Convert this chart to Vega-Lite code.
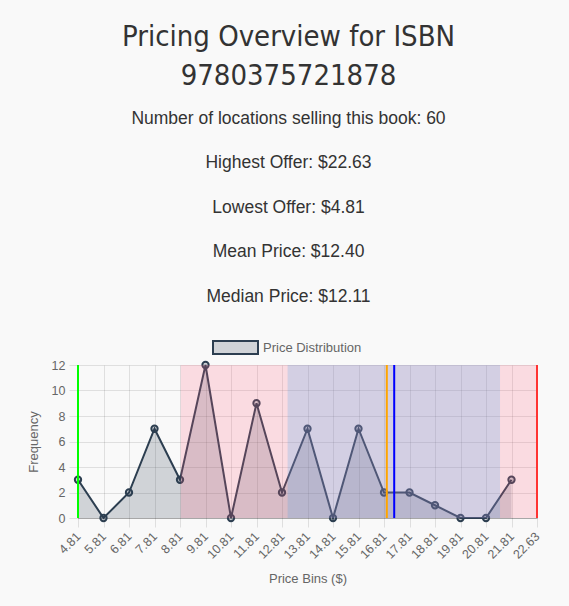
{
  "$schema": "https://vega.github.io/schema/vega-lite/v6.json",
  "width": 459,
  "height": 153,
  "autosize": {"type": "none"},
  "padding": {"left": 78, "top": 365, "right": 32, "bottom": 88},
  "background": "#f9f9f9",
  "title": {
    "text": ["Pricing Overview for ISBN", "9780375721878"],
    "subtitle": ["Number of locations selling this book: 60", "Highest Offer: $22.63", "Lowest Offer: $4.81", "Mean Price: $12.40", "Median Price: $12.11"],
    "font": "DejaVu Sans Condensed",
    "fontSize": 29,
    "fontWeight": "normal",
    "color": "#333333",
    "lineHeight": 39,
    "subtitleFont": "Liberation Sans",
    "subtitleFontSize": 17.5,
    "subtitleColor": "#333333",
    "subtitleLineHeight": 44.5,
    "subtitlePadding": 19,
    "anchor": "middle",
    "dx": -19,
    "offset": 19
  },
  "datasets": {
    "bins": [
      {"bin": "4.81", "pos": 0, "freq": 3},
      {"bin": "5.81", "pos": 1, "freq": 0},
      {"bin": "6.81", "pos": 2, "freq": 2},
      {"bin": "7.81", "pos": 3, "freq": 7},
      {"bin": "8.81", "pos": 4, "freq": 3},
      {"bin": "9.81", "pos": 5, "freq": 12},
      {"bin": "10.81", "pos": 6, "freq": 0},
      {"bin": "11.81", "pos": 7, "freq": 9},
      {"bin": "12.81", "pos": 8, "freq": 2},
      {"bin": "13.81", "pos": 9, "freq": 7},
      {"bin": "14.81", "pos": 10, "freq": 0},
      {"bin": "15.81", "pos": 11, "freq": 7},
      {"bin": "16.81", "pos": 12, "freq": 2},
      {"bin": "17.81", "pos": 13, "freq": 2},
      {"bin": "18.81", "pos": 14, "freq": 1},
      {"bin": "19.81", "pos": 15, "freq": 0},
      {"bin": "20.81", "pos": 16, "freq": 0},
      {"bin": "21.81", "pos": 17, "freq": 3}
    ],
    "bands": [
      {"band": "outer", "pos": 4.03, "end": 18},
      {"band": "iqr", "pos": 8.22, "end": 16.55}
    ],
    "markers": [
      {"stat": "Lowest", "pos": 0},
      {"stat": "Median", "pos": 12.11},
      {"stat": "Mean", "pos": 12.4},
      {"stat": "Highest", "pos": 18}
    ]
  },
  "encoding": {
    "x": {
      "field": "pos", "type": "quantitative",
      "scale": {"domain": [0, 18], "nice": false, "zero": false},
      "axis": {
        "title": "Price Bins ($)",
        "values": [0,1,2,3,4,5,6,7,8,9,10,11,12,13,14,15,16,17,18],
        "labelExpr": "['4.81','5.81','6.81','7.81','8.81','9.81','10.81','11.81','12.81','13.81','14.81','15.81','16.81','17.81','18.81','19.81','20.81','21.81','22.63'][datum.value]",
        "labelAngle": -45,
        "labelAlign": "right",
        "labelBaseline": "middle",
        "labelPadding": 7,
        "labelOverlap": false,
        "labelBound": false,
        "titlePadding": 12
      }
    }
  },
  "layer": [
    {
      "data": {"name": "bins"},
      "mark": {"type": "area", "interpolate": "linear"},
      "encoding": {
        "y": {
          "field": "freq", "type": "quantitative",
          "scale": {"domain": [0, 12], "nice": false},
          "axis": {"title": "Frequency", "values": [0,2,4,6,8,10,12], "labelPadding": 4, "labelOverlap": false, "titlePadding": 11}
        },
        "color": {
          "datum": "Price Distribution",
          "scale": {"range": ["rgba(44,62,80,0.2)"]},
          "legend": {
            "orient": "none", "legendX": 134, "legendY": -41, "title": null,
            "symbolType": "M-1,-0.289H1V0.289H-1Z", "symbolSize": 2025,
            "symbolStrokeColor": "#2c3e50", "symbolStrokeWidth": 2, "symbolOpacity": 1,
            "labelFont": "Liberation Sans", "labelFontSize": 13, "labelColor": "#666666"
          }
        }
      }
    },
    {
      "data": {"name": "bins"},
      "mark": {"type": "line", "color": "#2c3e50", "strokeWidth": 2},
      "encoding": {
        "y": {
          "field": "freq", "type": "quantitative",
          "scale": {"domain": [0, 12], "nice": false},
          "axis": {"title": "Frequency", "values": [0,2,4,6,8,10,12], "labelPadding": 4, "labelOverlap": false, "titlePadding": 11}
        }
      }
    },
    {
      "data": {"name": "bins"},
      "mark": {"type": "point", "shape": "circle", "size": 40, "stroke": "#2c3e50", "strokeWidth": 2, "fill": "rgba(44,62,80,0.2)", "filled": true, "opacity": 1},
      "encoding": {
        "y": {
          "field": "freq", "type": "quantitative",
          "scale": {"domain": [0, 12], "nice": false},
          "axis": {"title": "Frequency", "values": [0,2,4,6,8,10,12], "labelPadding": 4, "labelOverlap": false, "titlePadding": 11}
        }
      }
    },
    {
      "data": {"name": "bands"},
      "transform": [{"filter": "datum.band == 'outer'"}],
      "mark": {"type": "rect", "fill": "#ff6384", "fillOpacity": 0.2},
      "encoding": {
        "x2": {"field": "end"}
      }
    },
    {
      "data": {"name": "bands"},
      "transform": [{"filter": "datum.band == 'iqr'"}],
      "mark": {"type": "rect", "fill": "#36a2eb", "fillOpacity": 0.2},
      "encoding": {
        "x2": {"field": "end"}
      }
    },
    {
      "data": {"name": "markers"},
      "mark": {"type": "rule", "strokeWidth": 2},
      "encoding": {
        "stroke": {
          "field": "stat", "type": "nominal",
          "scale": {"domain": ["Lowest", "Median", "Mean", "Highest"], "range": ["#00ff00", "#ffa500", "#0000ff", "#ff3333"]},
          "legend": null
        }
      }
    }
  ],
  "config": {
    "view": {"stroke": null},
    "axis": {
      "labelOverlap": false,
      "labelFont": "Liberation Sans", "labelFontSize": 12.5, "labelColor": "#666666",
      "titleFont": "Liberation Sans", "titleFontSize": 13, "titleColor": "#666666", "titleFontWeight": "normal",
      "gridColor": "#000000", "gridOpacity": 0.1,
      "tickColor": "#000000", "tickOpacity": 0.1, "tickSize": 9,
      "domainColor": "#000000", "domainOpacity": 0.25
    }
  }
}
